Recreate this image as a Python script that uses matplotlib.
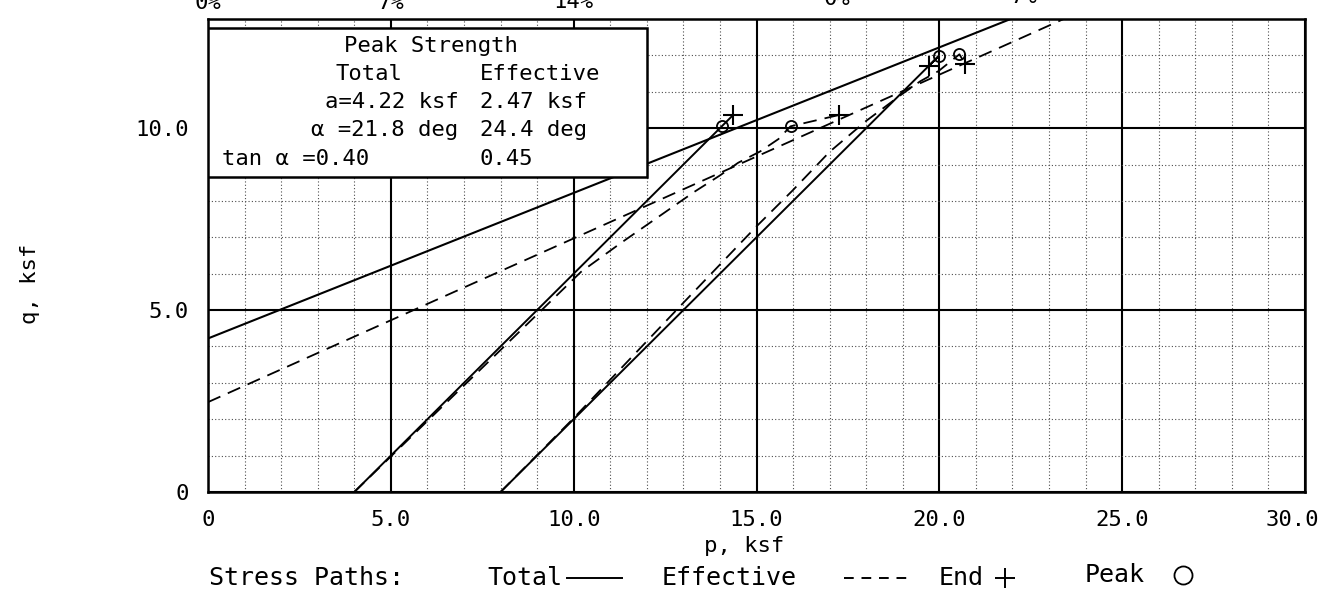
import matplotlib.pyplot as plt
from matplotlib.lines import Line2D
from matplotlib.patches import Rectangle
import numpy as np

# peak strength envelopes  q = a + p * tan(alpha)
a_total, tan_total = 4.22, 0.40
a_eff, tan_eff = 2.47, 0.45

# specimen 1 (consolidated to p = 4 ksf)
tot1_p = [4.0, 14.36]
tot1_q = [0.0, 10.36]
eff1_p = [4.0, 6.05, 8.1, 10.2, 11.3, 12.3, 13.3, 14.0, 14.5, 15.1, 15.6, 15.93, 17.25]
eff1_q = [0.0, 2.0, 4.0, 6.05, 6.85, 7.55, 8.25, 8.7, 9.05, 9.36, 9.7, 10.05, 10.36]

# specimen 2 (consolidated to p = 8 ksf)
tot2_p = [8.0, 19.98, 19.72]
tot2_q = [0.0, 11.98, 11.72]
eff2_p = [8.0, 10.0, 13.0, 15.0, 16.0, 17.0, 18.0, 19.0, 19.48, 19.98, 20.55, 20.7]
eff2_q = [0.0, 2.03, 5.2, 7.3, 8.3, 9.35, 10.2, 10.95, 11.29, 11.57, 12.03, 11.77]

peak_p = [14.05, 15.93, 19.98, 20.55]
peak_q = [10.05, 10.05, 11.98, 12.03]
end_p = [14.36, 17.25, 19.72, 20.7]
end_q = [10.36, 10.36, 11.72, 11.77]

x_ticks = [0, 5, 10, 15, 20, 25, 30]
x_labels = ['0', '5.0', '10.0', '15.0', '20.0', '25.0', '30.0']
y_ticks = [0, 5, 10]
y_labels = ['0', '5.0', '10.0']
strain_labels = ['0%', '7%', '14%', '0%', '7%']

plt.rcParams['font.family'] = ['DejaVu Sans Mono', 'DejaVu Sans']
W, H = 1325, 592
fig = plt.figure(figsize=(W / 100, H / 100), dpi=100)
ax = fig.add_axes([208 / W, 1 - 492 / H, 1097 / W, 473 / H])

ax.set_xlim(0, 30)
ax.set_ylim(0, 13)
ax.set_xticks(x_ticks)
# last label sits inside the page edge, drawn separately below
ax.set_xticklabels(x_labels[:-1] + [''])
ax.set_yticks(y_ticks)
ax.set_yticklabels(y_labels)
ax.set_xticks(np.arange(0, 31, 1), minor=True)
ax.set_yticks(np.arange(0, 14, 1), minor=True)
ax.tick_params(which='both', length=0)
ax.tick_params(axis='x', pad=13, labelsize=16)
ax.tick_params(axis='y', pad=14, labelsize=16)
ax.text(1319 / 1097 - 208 / 1097, -28 / 473, x_labels[-1], transform=ax.transAxes,
        ha='right', va='center', fontsize=16, clip_on=False)
ax.grid(which='minor', color='0.3', lw=0.8, ls=(0, (1, 2)))
ax.grid(which='major', color='black', lw=1.5, ls='-')
ax.set_axisbelow(True)
for s in ax.spines.values():
    s.set_linewidth(1.8)

dash = (7.5, 4.5)
# envelopes
p_env = np.array([0, 30])
ax.plot(p_env, a_total + tan_total * p_env, color='black', lw=1.5)
ax.plot(p_env, a_eff + tan_eff * p_env, color='black', lw=1.3, dashes=dash)

# stress paths
ax.plot(tot1_p, tot1_q, color='black', lw=1.4)
ax.plot(tot2_p, tot2_q, color='black', lw=1.4)
ax.plot(eff1_p, eff1_q, color='black', lw=1.3, dashes=dash)
ax.plot(eff2_p, eff2_q, color='black', lw=1.3, dashes=dash)

ax.plot(end_p, end_q, ls='none', marker='+', ms=15, mew=1.5, color='black')
ax.plot(peak_p, peak_q, ls='none', marker='o', ms=8, mew=1.3, mfc='none', mec='black')

# peak strength box
ax.add_patch(Rectangle((0, 8.67), 12.0, 4.08, facecolor='white', edgecolor='black',
                       lw=1.8, zorder=5))
fs = 16
ax.text(6.1, 12.25, 'Peak Strength', ha='center', va='center', fontsize=fs, zorder=6)
ax.text(4.4, 11.48, 'Total', ha='center', va='center', fontsize=fs, zorder=6)
ax.text(7.43, 11.48, 'Effective', ha='left', va='center', fontsize=fs, zorder=6)
ax.text(6.85, 10.72, f'a={a_total:.2f} ksf', ha='right', va='center', fontsize=fs, zorder=6)
ax.text(7.43, 10.72, f'{a_eff:.2f} ksf', ha='left', va='center', fontsize=fs, zorder=6)
ax.text(6.85, 9.96, '\u03b1 =21.8 deg', ha='right', va='center', fontsize=fs, zorder=6)
ax.text(7.43, 9.96, '24.4 deg', ha='left', va='center', fontsize=fs, zorder=6)
ax.text(0.37, 9.15, f'tan \u03b1 ={tan_total:.2f}', ha='left', va='center', fontsize=fs, zorder=6)
ax.text(7.43, 9.15, f'{tan_eff:.2f}', ha='left', va='center', fontsize=fs, zorder=6)

# strain labels of the plot above (cut off by the page edge, as on the page)
strain_x = [0, 5, 10, 17.2, 22.3]
strain_y = [13, 13, 12, 9, 7]
for lab, sx, sy in zip(strain_labels, strain_x, strain_y):
    fx = (208 + sx * 1097 / 30) / W
    fig.text(fx, 1 - sy / H, lab, ha='center', va='bottom', fontsize=16)

# axis titles
fig.text(744 / W, 1 - 546 / H, 'p, ksf', ha='center', va='center', fontsize=16)
fig.text(30 / W, 1 - 284 / H, 'q, ksf', ha='center', va='center', fontsize=16, rotation=90)

# legend line at the bottom
ly = 1 - 578 / H
lfs = 18
fig.text(209 / W, ly, 'Stress Paths:', ha='left', va='center', fontsize=lfs)
fig.text(487 / W, ly, 'Total', ha='left', va='center', fontsize=lfs)
fig.add_artist(Line2D([567 / W, 622 / W], [ly, ly], color='black', lw=1.4))
fig.text(662 / W, ly, 'Effective', ha='left', va='center', fontsize=lfs)
fig.add_artist(Line2D([844 / W, 914 / W], [ly, ly], color='black', lw=1.4, dashes=(5, 4)))
fig.text(939 / W, ly, 'End', ha='left', va='center', fontsize=lfs)
fig.add_artist(Line2D([1005 / W], [ly], ls='none', marker='+', ms=15, mew=1.4, color='black'))
fig.text(1085 / W, ly + 3 / H, 'Peak', ha='left', va='center', fontsize=lfs)
fig.add_artist(Line2D([1183 / W], [ly + 3 / H], ls='none', marker='o', ms=13, mew=1.3,
                      mfc='none', mec='black'))

fig.savefig('out.png', dpi=100)
